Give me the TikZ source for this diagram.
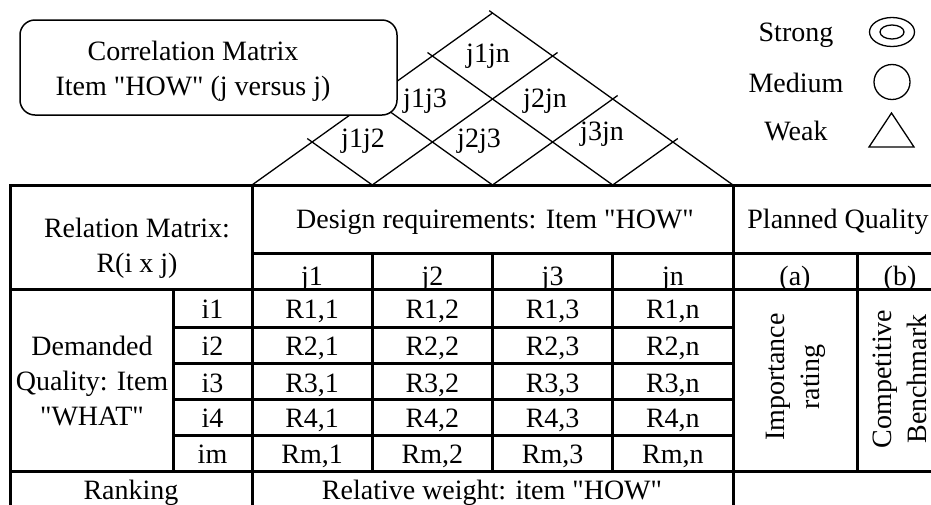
\documentclass[tikz,border=0pt]{standalone}
\usepackage{fontspec}
\setmainfont{Liberation Serif}
\newfontfamily\tnr{Liberation Serif}
\begin{document}
\begin{tikzpicture}[x=1pt,y=-1pt,
  txt/.style={font=\tnr\fontsize{28}{35}\selectfont, inner sep=0pt, align=center},
  btxt/.style={txt, anchor=base},
  grid/.style={line width=3pt},
  tri/.style={line width=1.3pt},
  ext/.style={shorten >=-6pt},
  sym/.style={line width=1.3pt}]
\useasboundingbox (0,0) rectangle (931,504);
\clip (0,0) rectangle (931,504);
% ---- roof (correlation triangle)
\coordinate (A) at (492.5,13);
\coordinate (B0) at (252,185);
\coordinate (B1) at (372.25,185);
\coordinate (B2) at (492.5,185);
\coordinate (B3) at (612.75,185);
\coordinate (B4) at (733,185);
\coordinate (L1) at (312.125,142);
\coordinate (L2) at (372.25,99);
\coordinate (L3) at (432.375,56);
\coordinate (R1) at (552.625,56);
\coordinate (R2) at (612.75,99);
\coordinate (R3) at (672.875,142);
\draw[tri] (A) -- (B0);
\draw[tri, shorten <=-4pt] (A) -- (B4);
\draw[tri, ext] (B1) -- (L1);
\draw[tri, ext] (B2) -- (L2);
\draw[tri, ext] (B3) -- (L3);
\draw[tri, ext] (B1) -- (R1);
\draw[tri, ext] (B2) -- (R2);
\draw[tri, ext] (B3) -- (R3);
\node[btxt] (c12) at (363,147) {j1j2};
\node[btxt] (c23) at (479,147) {j2j3};
\node[btxt] (c3n) at (602,140) {j3jn};
\node[btxt] (c13) at (425,107) {j1j3};
\node[btxt] (c2n) at (545,107) {j2jn};
\node[btxt] (c1n) at (488,62) {j1jn};
% ---- correlation box
\node[draw, rounded corners=15pt, fill=white, line width=1.5pt,
      minimum width=377pt, minimum height=95pt] (corrbox) at (208.5,67.5) {};
\node[btxt] (corrtxt) at (193,95) {Correlation Matrix\\Item "HOW" (j versus j)};
% ---- legend
\node[btxt] (lstrong) at (796,41) {Strong};
\node[btxt] (lmedium) at (796,92) {Medium};
\node[btxt] (lweak) at (796,140) {Weak};
\draw[sym] (892,32) ellipse [x radius=22.5pt, y radius=14.5pt];
\draw[sym] (892,32) ellipse [x radius=12pt, y radius=7pt];
\draw[sym] (892,82) ellipse [x radius=18pt, y radius=17.5pt];
\draw[sym, line join=miter] (869,147) -- (914,147) -- (891.5,113) -- cycle;
% ---- table lines
\draw[grid] (943,185) -- (10,185) -- (10,520);
\draw[grid] (252,185) -- (252,520);
\draw[grid] (733,185) -- (733,520);
\draw[grid] (252,253) -- (943,253);
\draw[grid] (10,289) -- (943,289);
\draw[grid] (10,471) -- (943,471);
\foreach \x in {372.25,492.5,612.75} \draw[grid] (\x,253) -- (\x,471);
\draw[grid] (857,253) -- (857,471);
\draw[grid] (173,289) -- (173,471);
\foreach \y in {327,363,399,435} \draw[grid] (173,\y) -- (733,\y);
% ---- table texts
\node[btxt] (relm) at (137,272) {Relation Matrix:\\R(i x j)};
\node[btxt] (design) at (495,228) {Design requirements: Item "HOW"};
\node[btxt] (planned) at (838,228) {Planned Quality};
\node[btxt] (hj1) at (312.1,285) {j1};
\node[btxt] (hj2) at (432.4,285) {j2};
\node[btxt] (hj3) at (552.6,285) {j3};
\node[btxt] (hjn) at (672.9,285) {jn};
\node[btxt] (ha) at (795,285) {(a)};
\node[btxt] (hb) at (900,285) {(b)};
\foreach \r/\lab/\yb in {1/1/318, 2/2/355, 3/3/392, 4/4/427, m/m/463} {
  \node[btxt] (i\r) at (212.5,\yb) {i\lab};
  \node[btxt] (r\r c1) at (312.1,\yb) {R\lab,1};
  \node[btxt] (r\r c2) at (432.4,\yb) {R\lab,2};
  \node[btxt] (r\r c3) at (552.6,\yb) {R\lab,3};
  \node[btxt] (r\r cn) at (672.9,\yb) {R\lab,n};
}
\node[btxt] (demanded) at (92,425) {Demanded\\Quality: Item\\"WHAT"};
\node[txt, rotate=90] (imp) at (796,377) {Importance\\rating};
\node[txt, rotate=90] (comp) at (900,379) {Competitive\\Benchmark};
\node[btxt] (ranking) at (131,499) {Ranking};
\node[btxt] (relw) at (492,499) {Relative weight: item "HOW"};
\end{tikzpicture}
\end{document}
